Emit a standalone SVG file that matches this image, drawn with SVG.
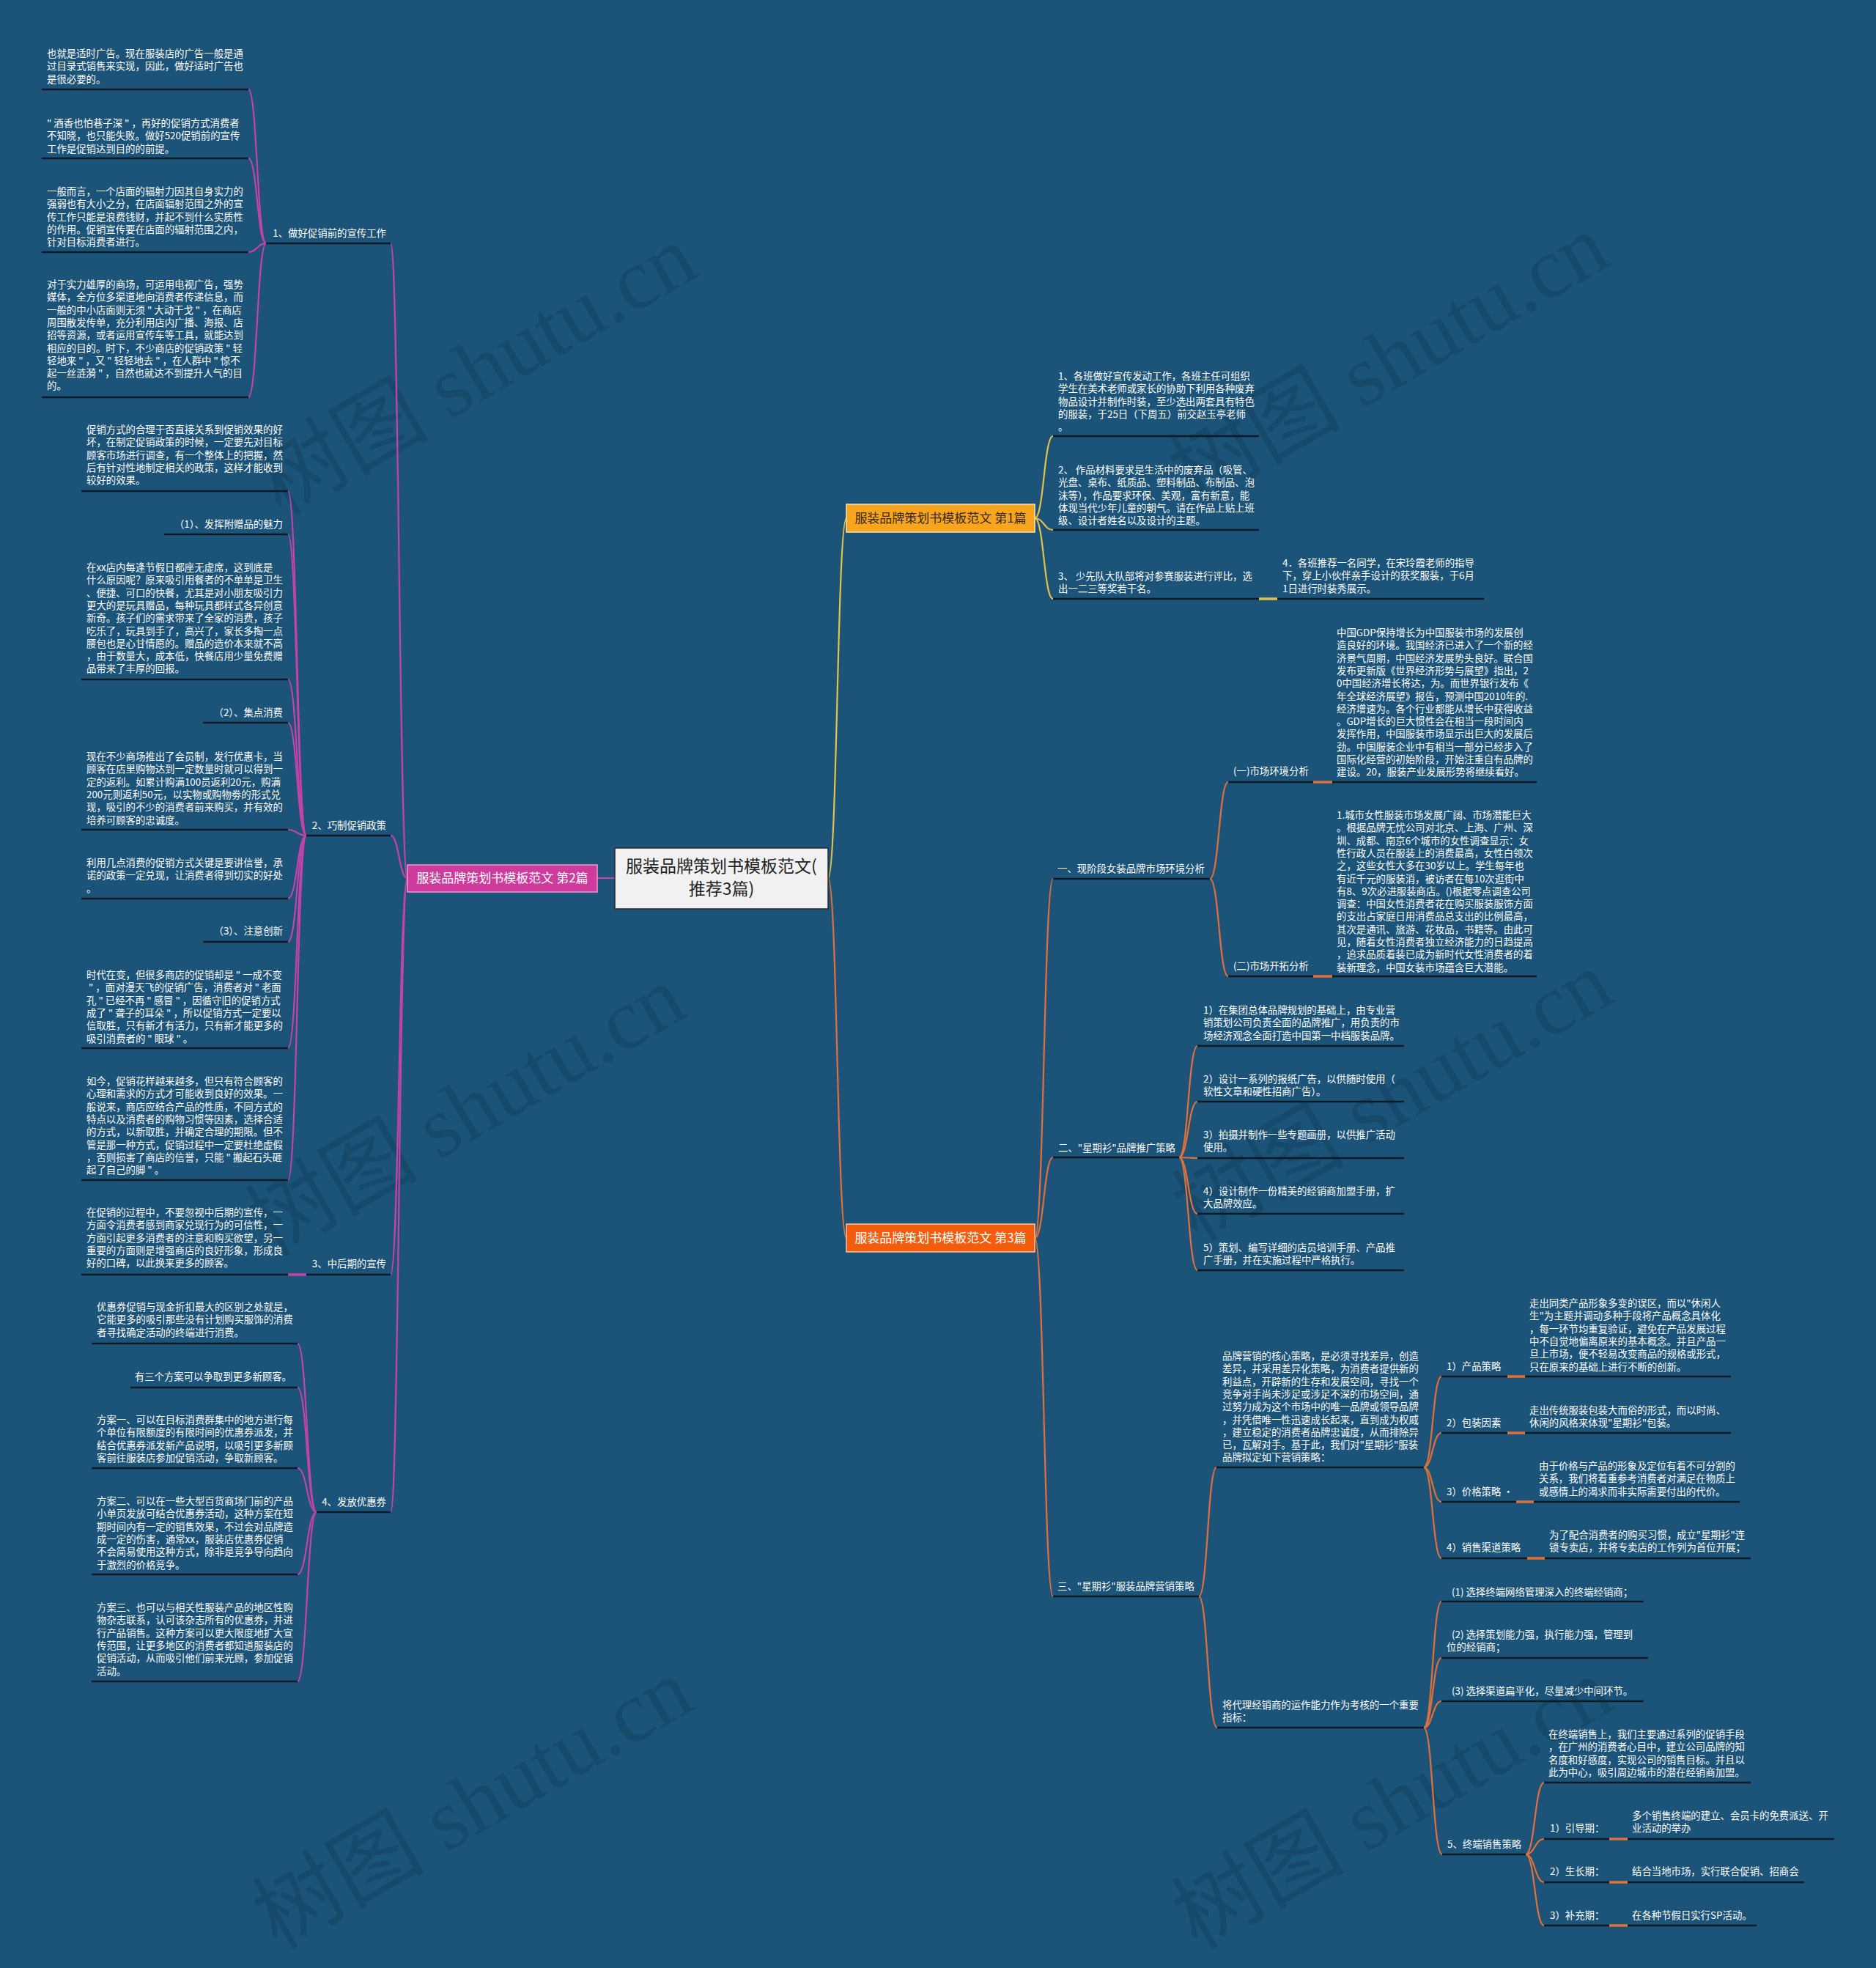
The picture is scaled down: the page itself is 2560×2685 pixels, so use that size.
<svg xmlns="http://www.w3.org/2000/svg" width="2560" height="2685" viewBox="0 0 2560 2685">
<style>
.t{font-family:"Noto Sans CJK SC","Noto Sans",sans-serif;font-size:13.4px;fill:#ffffff}
.te{font-family:"Noto Sans CJK SC","Noto Sans",sans-serif;font-size:13.4px;fill:#ffffff;text-anchor:end}
.ul{stroke:#0c1a25;stroke-width:2.6;fill:none}
.cm{stroke:#c443a9;stroke-width:2.2;fill:none}
.cy{stroke:#e6c24a;stroke-width:2.2;fill:none}
.co{stroke:#e2703a;stroke-width:2.2;fill:none}
.seg{stroke-width:3.5}
.wm{font-family:"Liberation Serif","Noto Sans CJK SC",serif;font-size:118px;fill:#000000;opacity:0.11;text-anchor:middle}
.bt{font-family:"Noto Sans CJK SC","Noto Sans",sans-serif;font-size:17px;text-anchor:middle}
</style>
<rect x="0" y="0" width="2560" height="2685" fill="#1b5379"/>

<g id="watermarks">
<text class="wm" transform="translate(670,540) rotate(-30)">树图 shutu.cn</text>
<text class="wm" transform="translate(655,1550) rotate(-30)">树图 shutu.cn</text>
<text class="wm" transform="translate(665,2495) rotate(-30)">树图 shutu.cn</text>
<text class="wm" transform="translate(1915,525) rotate(-30)">树图 shutu.cn</text>
<text class="wm" transform="translate(1920,1530) rotate(-30)">树图 shutu.cn</text>
<text class="wm" transform="translate(1920,2495) rotate(-30)">树图 shutu.cn</text>
</g>

<g id="connectors">
<path class="cy" d="M1130,1198 C1142.5,1198 1142.5,707 1155,707"/>
<path class="co" d="M1130,1198 C1142.5,1198 1142.5,1689 1155,1689"/>
<path class="cm" d="M839,1198 L815,1198"/>
<path class="cm" d="M556,1198 C544.5,1198 544.5,332 533,332"/>
<path class="cm" d="M556,1198 C544.5,1198 544.5,1140 533,1140"/>
<path class="cm" d="M556,1198 C544.5,1198 544.5,1739 533,1739"/>
<path class="cm" d="M556,1198 C544.5,1198 544.5,2063 533,2063"/>
<path class="cm" d="M363,332 C351,332 351,122 339,122"/>
<path class="cm" d="M363,332 C351,332 351,216 339,216"/>
<path class="cm" d="M363,332 C351,332 351,344 339,344"/>
<path class="cm" d="M363,332 C351,332 351,542 339,542"/>
<path class="cm" d="M418,1140 C405.5,1140 405.5,670 393,670"/>
<path class="cm" d="M418,1140 C405.5,1140 405.5,729 393,729"/>
<path class="cm" d="M418,1140 C405.5,1140 405.5,927 393,927"/>
<path class="cm" d="M418,1140 C405.5,1140 405.5,986 393,986"/>
<path class="cm" d="M418,1140 C405.5,1140 405.5,1132 393,1132"/>
<path class="cm" d="M418,1140 C405.5,1140 405.5,1226 393,1226"/>
<path class="cm" d="M418,1140 C405.5,1140 405.5,1285 393,1285"/>
<path class="cm" d="M418,1140 C405.5,1140 405.5,1430 393,1430"/>
<path class="cm" d="M418,1140 C405.5,1140 405.5,1610 393,1610"/>
<path class="cm seg" d="M418,1739 L393,1739"/>
<path class="cm" d="M432,2063 C419,2063 419,1833 406,1833"/>
<path class="cm" d="M432,2063 C419,2063 419,1893 406,1893"/>
<path class="cm" d="M432,2063 C419,2063 419,2003 406,2003"/>
<path class="cm" d="M432,2063 C419,2063 419,2148 406,2148"/>
<path class="cm" d="M432,2063 C419,2063 419,2294 406,2294"/>
<path class="cy" d="M1412,707 C1424.5,707 1424.5,595 1437,595"/>
<path class="cy" d="M1412,707 C1424.5,707 1424.5,723 1437,723"/>
<path class="cy" d="M1412,707 C1424.5,707 1424.5,817 1437,817"/>
<path class="cy seg" d="M1718,817 L1743,817"/>
<path class="co" d="M1412,1689 C1424.5,1689 1424.5,1199 1437,1199"/>
<path class="co" d="M1412,1689 C1424.5,1689 1424.5,1579 1437,1579"/>
<path class="co" d="M1412,1689 C1424.5,1689 1424.5,2178 1437,2178"/>
<path class="co" d="M1651,1199 C1663.5,1199 1663.5,1067 1676,1067"/>
<path class="co" d="M1651,1199 C1663.5,1199 1663.5,1332 1676,1332"/>
<path class="co seg" d="M1792,1067 L1818,1067"/>
<path class="co seg" d="M1792,1332 L1818,1332"/>
<path class="co" d="M1609,1579 C1621.5,1579 1621.5,1427 1634,1427"/>
<path class="co" d="M1609,1579 C1621.5,1579 1621.5,1503 1634,1503"/>
<path class="co" d="M1609,1579 C1621.5,1579 1621.5,1580 1634,1580"/>
<path class="co" d="M1609,1579 C1621.5,1579 1621.5,1656 1634,1656"/>
<path class="co" d="M1609,1579 C1621.5,1579 1621.5,1733 1634,1733"/>
<path class="co" d="M1636,2178 C1648,2178 1648,2002 1660,2002"/>
<path class="co" d="M1636,2178 C1648,2178 1648,2357 1661,2357"/>
<path class="co" d="M1943,2002 C1955,2002 1955,1878 1967,1878"/>
<path class="co" d="M1943,2002 C1955,2002 1955,1955 1967,1955"/>
<path class="co" d="M1943,2002 C1955,2002 1955,2049 1967,2049"/>
<path class="co" d="M1943,2002 C1955,2002 1955,2126 1967,2126"/>
<path class="co seg" d="M2057,1878 L2081,1878"/>
<path class="co seg" d="M2057,1955 L2081,1955"/>
<path class="co seg" d="M2069,2049 L2093,2049"/>
<path class="co seg" d="M2084,2126 L2108,2126"/>
<path class="co" d="M1943,2357 C1955,2357 1955,2185 1967,2185"/>
<path class="co" d="M1943,2357 C1955,2357 1955,2262 1967,2262"/>
<path class="co" d="M1943,2357 C1955,2357 1955,2321 1967,2321"/>
<path class="co" d="M1943,2357 C1955,2357 1955,2530 1968,2530"/>
<path class="co" d="M2082,2530 C2094.5,2530 2094.5,2432 2107,2432"/>
<path class="co" d="M2082,2530 C2094.5,2530 2094.5,2509 2107,2509"/>
<path class="co" d="M2082,2530 C2094.5,2530 2094.5,2568 2107,2568"/>
<path class="co" d="M2082,2530 C2094.5,2530 2094.5,2627 2107,2627"/>
<path class="co seg" d="M2196,2509 L2221,2509"/>
<path class="co seg" d="M2196,2568 L2221,2568"/>
<path class="co seg" d="M2196,2627 L2221,2627"/>
</g>

<g id="root">
<rect x="839" y="1157" width="291" height="83" fill="#f1f1f1" stroke="#2a2a2a" stroke-width="1.5"/>
<text font-family="Noto Sans CJK SC, Noto Sans, sans-serif" font-size="23" fill="#222" text-anchor="middle"><tspan x="984.5" y="1190">服装品牌策划书模板范文(</tspan><tspan x="984.5" y="1221">推荐3篇)</tspan></text>
</g>

<g id="b1">
<rect x="1155" y="688" width="257" height="38" fill="#f7a51e" stroke="#ffe2a8" stroke-width="1.5"/>
<text class="bt" x="1283.5" y="713" fill="#3a2a10">服装品牌策划书模板范文 第1篇</text>
</g>
<g id="b2">
<rect x="556" y="1180" width="259" height="37" fill="#cf3a9d" stroke="#f59ad4" stroke-width="1.5"/>
<text class="bt" x="685.5" y="1204" fill="#ffffff">服装品牌策划书模板范文 第2篇</text>
</g>
<g id="b3">
<rect x="1155" y="1670" width="257" height="38" fill="#f45c0d" stroke="#ffc4a0" stroke-width="1.5"/>
<text class="bt" x="1283.5" y="1695" fill="#ffffff">服装品牌策划书模板范文 第3篇</text>
</g>

<g id="h1">
<text class="te" x="527" y="323">1、做好促销前的宣传工作</text>
<line class="ul" x1="363" y1="332" x2="533" y2="332"/>
</g>
<g id="h1a">
<text class="t"><tspan x="64" y="78">也就是适时广告。现在服装店的广告一般是通</tspan><tspan x="64" y="95.3">过目录式销售来实现，因此，做好适时广告也</tspan><tspan x="64" y="112.6">是很必要的。</tspan></text>
<line class="ul" x1="57" y1="122" x2="339" y2="122"/>
</g>
<g id="h1b">
<text class="t"><tspan x="64" y="173">" 酒香也怕巷子深 " ，再好的促销方式消费者</tspan><tspan x="64" y="190.3">不知晓，也只能失败。做好520促销前的宣传</tspan><tspan x="64" y="207.6">工作是促销达到目的的前提。</tspan></text>
<line class="ul" x1="57" y1="216" x2="339" y2="216"/>
</g>
<g id="h1c">
<text class="t"><tspan x="64" y="266">一般而言，一个店面的辐射力因其自身实力的</tspan><tspan x="64" y="283.3">强弱也有大小之分，在店面辐射范围之外的宣</tspan><tspan x="64" y="300.6">传工作只能是浪费钱财，并起不到什么实质性</tspan><tspan x="64" y="317.9">的作用。促销宣传要在店面的辐射范围之内，</tspan><tspan x="64" y="335.2">针对目标消费者进行。</tspan></text>
<line class="ul" x1="57" y1="344" x2="339" y2="344"/>
</g>
<g id="h1d">
<text class="t"><tspan x="64" y="393">对于实力雄厚的商场，可运用电视广告，强势</tspan><tspan x="64" y="410.3">媒体，全方位多渠道地向消费者传递信息，而</tspan><tspan x="64" y="427.6">一般的中小店面则无须 " 大动干戈 " ，在商店</tspan><tspan x="64" y="444.9">周围散发传单，充分利用店内广播、海报、店</tspan><tspan x="64" y="462.2">招等资源，或者运用宣传车等工具，就能达到</tspan><tspan x="64" y="479.5">相应的目的。时下，不少商店的促销政策 " 轻</tspan><tspan x="64" y="496.8">轻地来 " ，又 " 轻轻地去 " ，在人群中 " 惊不</tspan><tspan x="64" y="514.1">起一丝涟漪 " ，自然也就达不到提升人气的目</tspan><tspan x="64" y="531.4">的。</tspan></text>
<line class="ul" x1="57" y1="542" x2="339" y2="542"/>
</g>

<g id="h2">
<text class="te" x="527" y="1131">2、巧制促销政策</text>
<line class="ul" x1="418" y1="1140" x2="533" y2="1140"/>
</g>
<g id="h2a">
<text class="t"><tspan x="118" y="591">促销方式的合理于否直接关系到促销效果的好</tspan><tspan x="118" y="608.3">坏，在制定促销政策的时候，一定要先对目标</tspan><tspan x="118" y="625.6">顾客市场进行调查，有一个整体上的把握，然</tspan><tspan x="118" y="642.9">后有针对性地制定相关的政策，这样才能收到</tspan><tspan x="118" y="660.2">较好的效果。</tspan></text>
<line class="ul" x1="111" y1="670" x2="393" y2="670"/>
</g>
<g id="h2b">
<text class="te" x="386" y="720">（1）、发挥附赠品的魅力</text>
<line class="ul" x1="224" y1="729" x2="393" y2="729"/>
</g>
<g id="h2c">
<text class="t"><tspan x="118" y="779">在xx店内每逢节假日都座无虚席，这到底是</tspan><tspan x="118" y="796.3">什么原因呢？原来吸引用餐者的不单单是卫生</tspan><tspan x="118" y="813.6">、便捷、可口的快餐，尤其是对小朋友吸引力</tspan><tspan x="118" y="830.9">更大的是玩具赠品，每种玩具都样式各异创意</tspan><tspan x="118" y="848.2">新奇。孩子们的需求带来了全家的消费，孩子</tspan><tspan x="118" y="865.5">吃乐了，玩具到手了，高兴了，家长多掏一点</tspan><tspan x="118" y="882.8">腰包也是心甘情愿的。赠品的造价本来就不高</tspan><tspan x="118" y="900.1">，由于数量大，成本低，快餐店用少量免费赠</tspan><tspan x="118" y="917.4">品带来了丰厚的回报。</tspan></text>
<line class="ul" x1="111" y1="927" x2="393" y2="927"/>
</g>
<g id="h2d">
<text class="te" x="386" y="977">（2）、集点消费</text>
<line class="ul" x1="277" y1="986" x2="393" y2="986"/>
</g>
<g id="h2e">
<text class="t"><tspan x="118" y="1037">现在不少商场推出了会员制，发行优惠卡，当</tspan><tspan x="118" y="1054.3">顾客在店里购物达到一定数量时就可以得到一</tspan><tspan x="118" y="1071.6">定的返利。如累计购满100员返利20元，购满</tspan><tspan x="118" y="1088.9">200元则返利50元，以实物或购物劵的形式兑</tspan><tspan x="118" y="1106.2">现，吸引的不少的消费者前来购买，并有效的</tspan><tspan x="118" y="1123.5">培养可顾客的忠诚度。</tspan></text>
<line class="ul" x1="111" y1="1132" x2="393" y2="1132"/>
</g>
<g id="h2f">
<text class="t"><tspan x="118" y="1182">利用几点消费的促销方式关键是要讲信誉，承</tspan><tspan x="118" y="1199.3">诺的政策一定兑现，让消费者得到切实的好处</tspan><tspan x="118" y="1216.6">。</tspan></text>
<line class="ul" x1="111" y1="1226" x2="393" y2="1226"/>
</g>
<g id="h2g">
<text class="te" x="386" y="1275">（3）、注意创新</text>
<line class="ul" x1="277" y1="1285" x2="393" y2="1285"/>
</g>
<g id="h2h">
<text class="t"><tspan x="118" y="1335">时代在变，但很多商店的促销却是 " 一成不变</tspan><tspan x="118" y="1352.3"> " ，面对漫天飞的促销广告，消费者对 " 老面</tspan><tspan x="118" y="1369.6">孔 " 已经不再 " 感冒 " ，因循守旧的促销方式</tspan><tspan x="118" y="1386.9">成了 " 聋子的耳朵 " ，所以促销方式一定要以</tspan><tspan x="118" y="1404.2">信取胜，只有新才有活力，只有新才能更多的</tspan><tspan x="118" y="1421.5">吸引消费者的 " 眼球 " 。</tspan></text>
<line class="ul" x1="111" y1="1430" x2="393" y2="1430"/>
</g>
<g id="h2i">
<text class="t"><tspan x="118" y="1480">如今，促销花样越来越多，但只有符合顾客的</tspan><tspan x="118" y="1497.3">心理和需求的方式才可能收到良好的效果。一</tspan><tspan x="118" y="1514.6">般说来，商店应结合产品的性质，不同方式的</tspan><tspan x="118" y="1531.9">特点以及消费者的购物习惯等因素，选择合适</tspan><tspan x="118" y="1549.2">的方式，以新取胜，并确定合理的期限。但不</tspan><tspan x="118" y="1566.5">管是那一种方式，促销过程中一定要杜绝虚假</tspan><tspan x="118" y="1583.8">，否则损害了商店的信誉，只能 " 搬起石头砸</tspan><tspan x="118" y="1601.1">起了自己的脚 " 。</tspan></text>
<line class="ul" x1="111" y1="1610" x2="393" y2="1610"/>
</g>

<g id="h3">
<text class="te" x="527" y="1729">3、中后期的宣传</text>
<line class="ul" x1="418" y1="1739" x2="533" y2="1739"/>
</g>
<g id="h3a">
<text class="t"><tspan x="118" y="1659">在促销的过程中，不要忽视中后期的宣传，一</tspan><tspan x="118" y="1676.3">方面令消费者感到商家兑现行为的可信性，一</tspan><tspan x="118" y="1693.6">方面引起更多消费者的注意和购买欲望，另一</tspan><tspan x="118" y="1710.9">重要的方面则是增强商店的良好形象，形成良</tspan><tspan x="118" y="1728.2">好的口碑，以此换来更多的顾客。</tspan></text>
<line class="ul" x1="111" y1="1739" x2="393" y2="1739"/>
</g>

<g id="h4">
<text class="te" x="527" y="2054">4、发放优惠券</text>
<line class="ul" x1="432" y1="2063" x2="533" y2="2063"/>
</g>
<g id="h4a">
<text class="t"><tspan x="132" y="1788">优惠券促销与现金折扣最大的区别之处就是，</tspan><tspan x="132" y="1805.3">它能更多的吸引那些没有计划购买服饰的消费</tspan><tspan x="132" y="1822.6">者寻找确定活动的终端进行消费。</tspan></text>
<line class="ul" x1="125" y1="1833" x2="406" y2="1833"/>
</g>
<g id="h4b">
<text class="te" x="398" y="1883">有三个方案可以争取到更多新顾客。</text>
<line class="ul" x1="178" y1="1893" x2="406" y2="1893"/>
</g>
<g id="h4c">
<text class="t"><tspan x="132" y="1942">方案一、可以在目标消费群集中的地方进行每</tspan><tspan x="132" y="1959.3">个单位有限额度的有限时间的优惠券派发，并</tspan><tspan x="132" y="1976.6">结合优惠券派发新产品说明，以吸引更多新顾</tspan><tspan x="132" y="1993.9">客前往服装店参加促销活动，争取新顾客。</tspan></text>
<line class="ul" x1="125" y1="2003" x2="406" y2="2003"/>
</g>
<g id="h4d">
<text class="t"><tspan x="132" y="2053">方案二、可以在一些大型百货商场门前的产品</tspan><tspan x="132" y="2070.3">小单页发放可结合优惠券活动，这种方案在短</tspan><tspan x="132" y="2087.6">期时间内有一定的销售效果，不过会对品牌造</tspan><tspan x="132" y="2104.9">成一定的伤害，通常xx，服装店优惠券促销</tspan><tspan x="132" y="2122.2">不会简易使用这种方式，除非是竞争导向趋向</tspan><tspan x="132" y="2139.5">于激烈的价格竞争。</tspan></text>
<line class="ul" x1="125" y1="2148" x2="406" y2="2148"/>
</g>
<g id="h4e">
<text class="t"><tspan x="132" y="2198">方案三、也可以与相关性服装产品的地区性购</tspan><tspan x="132" y="2215.3">物杂志联系，认可该杂志所有的优惠券，并进</tspan><tspan x="132" y="2232.6">行产品销售。这种方案可以更大限度地扩大宣</tspan><tspan x="132" y="2249.9">传范围，让更多地区的消费者都知道服装店的</tspan><tspan x="132" y="2267.2">促销活动，从而吸引他们前来光顾，参加促销</tspan><tspan x="132" y="2284.5">活动。</tspan></text>
<line class="ul" x1="125" y1="2294" x2="406" y2="2294"/>
</g>

<g id="p1a">
<text class="t"><tspan x="1444" y="518">1、各班做好宣传发动工作，各班主任可组织</tspan><tspan x="1444" y="535.3">学生在美术老师或家长的协助下利用各种废弃</tspan><tspan x="1444" y="552.6">物品设计并制作时装，至少选出两套具有特色</tspan><tspan x="1444" y="569.9">的服装，于25日（下周五）前交赵玉亭老师</tspan><tspan x="1444" y="587.2">。</tspan></text>
<line class="ul" x1="1437" y1="595" x2="1718" y2="595"/>
</g>
<g id="p1b">
<text class="t"><tspan x="1444" y="646">2、 作品材料要求是生活中的废弃品（吸管、</tspan><tspan x="1444" y="663.3">光盘、桌布、纸质品、塑料制品、布制品、泡</tspan><tspan x="1444" y="680.6">沫等），作品要求环保、美观，富有新意，能</tspan><tspan x="1444" y="697.9">体现当代少年儿童的朝气。请在作品上贴上班</tspan><tspan x="1444" y="715.2">级、设计者姓名以及设计的主题。</tspan></text>
<line class="ul" x1="1437" y1="723" x2="1718" y2="723"/>
</g>
<g id="p1c">
<text class="t"><tspan x="1444" y="791">3、 少先队大队部将对参赛服装进行评比，选</tspan><tspan x="1444" y="808.3">出一二三等奖若干名。</tspan></text>
<line class="ul" x1="1437" y1="817" x2="1718" y2="817"/>
</g>
<g id="p1d">
<text class="t"><tspan x="1750" y="773">4．各班推荐一名同学，在宋玲霞老师的指导</tspan><tspan x="1750" y="790.3">下，穿上小伙伴亲手设计的获奖服装，于6月</tspan><tspan x="1750" y="807.6">1日进行时装秀展示。</tspan></text>
<line class="ul" x1="1743" y1="817" x2="2025" y2="817"/>
</g>

<g id="s1">
<text class="t" x="1443" y="1190">一、现阶段女装品牌市场环境分析</text>
<line class="ul" x1="1437" y1="1199" x2="1651" y2="1199"/>
</g>
<g id="s1a">
<text class="t" x="1683" y="1057">(一)市场环境分析</text>
<line class="ul" x1="1676" y1="1067" x2="1792" y2="1067"/>
</g>
<g id="s1a1">
<text class="t"><tspan x="1824" y="868">中国GDP保持增长为中国服装市场的发展创</tspan><tspan x="1824" y="885.3">造良好的环境。我国经济已进入了一个新的经</tspan><tspan x="1824" y="902.6">济景气周期，中国经济发展势头良好。联合国</tspan><tspan x="1824" y="919.9">发布更新版《世界经济形势与展望》指出，2</tspan><tspan x="1824" y="937.2">0中国经济增长将达，为。而世界银行发布《</tspan><tspan x="1824" y="954.5">年全球经济展望》报告，预测中国2010年的.</tspan><tspan x="1824" y="971.8">经济增速为。各个行业都能从增长中获得收益</tspan><tspan x="1824" y="989.1">。GDP增长的巨大惯性会在相当一段时间内</tspan><tspan x="1824" y="1006.4">发挥作用，中国服装市场显示出巨大的发展后</tspan><tspan x="1824" y="1023.7">劲。中国服装企业中有相当一部分已经步入了</tspan><tspan x="1824" y="1041">国际化经营的初始阶段，开始注重自有品牌的</tspan><tspan x="1824" y="1058.3">建设。20，服装产业发展形势将继续看好。</tspan></text>
<line class="ul" x1="1818" y1="1067" x2="2097" y2="1067"/>
</g>
<g id="s1b">
<text class="t" x="1683" y="1323">(二)市场开拓分析</text>
<line class="ul" x1="1676" y1="1332" x2="1792" y2="1332"/>
</g>
<g id="s1b1">
<text class="t"><tspan x="1824" y="1117">1.城市女性服装市场发展广阔、市场潜能巨大</tspan><tspan x="1824" y="1134.3">。根据品牌无忧公司对北京、上海、广州、深</tspan><tspan x="1824" y="1151.6">圳、成都、南京6个城市的女性调查显示：女</tspan><tspan x="1824" y="1168.9">性行政人员在服装上的消费最高，女性白领次</tspan><tspan x="1824" y="1186.2">之，这些女性大多在30岁以上。学生每年也</tspan><tspan x="1824" y="1203.5">有近千元的服装消，被访者在每10次逛街中</tspan><tspan x="1824" y="1220.8">有8、9次必进服装商店。()根据零点调查公司</tspan><tspan x="1824" y="1238.1">调查：中国女性消费者花在购买服装服饰方面</tspan><tspan x="1824" y="1255.4">的支出占家庭日用消费品总支出的比例最高，</tspan><tspan x="1824" y="1272.7">其次是通讯、旅游、花妆品，书籍等。由此可</tspan><tspan x="1824" y="1290">见，随着女性消费者独立经济能力的日趋提高</tspan><tspan x="1824" y="1307.3">，追求品质着装已成为新时代女性消费者的着</tspan><tspan x="1824" y="1324.6">装新理念，中国女装市场蕴含巨大潜能。</tspan></text>
<line class="ul" x1="1818" y1="1332" x2="2097" y2="1332"/>
</g>

<g id="s2">
<text class="t" x="1444" y="1571">二、"星期衫"品牌推广策略</text>
<line class="ul" x1="1437" y1="1579" x2="1609" y2="1579"/>
</g>
<g id="s2a">
<text class="t"><tspan x="1642" y="1383">1）在集团总体品牌规划的基础上，由专业营</tspan><tspan x="1642" y="1400.3">销策划公司负责全面的品牌推广，用负责的市</tspan><tspan x="1642" y="1417.6">场经济观念全面打造中国第一中档服装品牌。</tspan></text>
<line class="ul" x1="1634" y1="1427" x2="1916" y2="1427"/>
</g>
<g id="s2b">
<text class="t"><tspan x="1642" y="1477">2）设计一系列的报纸广告，以供随时使用（</tspan><tspan x="1642" y="1494.3">软性文章和硬性招商广告）。</tspan></text>
<line class="ul" x1="1634" y1="1503" x2="1916" y2="1503"/>
</g>
<g id="s2c">
<text class="t"><tspan x="1642" y="1553">3）拍摄并制作一些专题画册，以供推广活动</tspan><tspan x="1642" y="1570.3">使用。</tspan></text>
<line class="ul" x1="1634" y1="1580" x2="1916" y2="1580"/>
</g>
<g id="s2d">
<text class="t"><tspan x="1642" y="1630">4）设计制作一份精美的经销商加盟手册，扩</tspan><tspan x="1642" y="1647.3">大品牌效应。</tspan></text>
<line class="ul" x1="1634" y1="1656" x2="1916" y2="1656"/>
</g>
<g id="s2e">
<text class="t"><tspan x="1642" y="1707">5）策划、编写详细的店员培训手册、产品推</tspan><tspan x="1642" y="1724.3">广手册，并在实施过程中严格执行。</tspan></text>
<line class="ul" x1="1634" y1="1733" x2="1916" y2="1733"/>
</g>

<g id="s3">
<text class="t" x="1443" y="2169">三、"星期衫"服装品牌营销策略</text>
<line class="ul" x1="1437" y1="2178" x2="1636" y2="2178"/>
</g>
<g id="s3a">
<text class="t"><tspan x="1668" y="1855">品牌营销的核心策略，是必须寻找差异，创造</tspan><tspan x="1668" y="1872.3">差异，并采用差异化策略，为消费者提供新的</tspan><tspan x="1668" y="1889.6">利益点，开辟新的生存和发展空间，寻找一个</tspan><tspan x="1668" y="1906.9">竞争对手尚未涉足或涉足不深的市场空间，通</tspan><tspan x="1668" y="1924.2">过努力成为这个市场中的唯一品牌或领导品牌</tspan><tspan x="1668" y="1941.5">，并凭借唯一性迅速成长起来，直到成为权威</tspan><tspan x="1668" y="1958.8">，建立稳定的消费者品牌忠诚度，从而排除异</tspan><tspan x="1668" y="1976.1">已，瓦解对手。基于此，我们对"星期衫"服装</tspan><tspan x="1668" y="1993.4">品牌拟定如下营销策略：</tspan></text>
<line class="ul" x1="1660" y1="2002" x2="1943" y2="2002"/>
</g>
<g id="s3a1">
<text class="t" x="1974" y="1869">1）产品策略</text>
<line class="ul" x1="1967" y1="1878" x2="2057" y2="1878"/>
</g>
<g id="s3a1x">
<text class="t"><tspan x="2087" y="1783">走出同类产品形象多变的误区，而以"休闲人</tspan><tspan x="2087" y="1800.3">生"为主题并调动多种手段将产品概念具体化</tspan><tspan x="2087" y="1817.6">，每一环节均重复验证，避免在产品发展过程</tspan><tspan x="2087" y="1834.9">中不自觉地偏离原来的基本概念。并且产品一</tspan><tspan x="2087" y="1852.2">旦上市场，便不轻易改变商品的规格或形式，</tspan><tspan x="2087" y="1869.5">只在原来的基础上进行不断的创新。</tspan></text>
<line class="ul" x1="2081" y1="1878" x2="2362" y2="1878"/>
</g>
<g id="s3a2">
<text class="t" x="1974" y="1946">2）包装因素</text>
<line class="ul" x1="1967" y1="1955" x2="2057" y2="1955"/>
</g>
<g id="s3a2x">
<text class="t"><tspan x="2087" y="1929">走出传统服装包装大而俗的形式，而以时尚、</tspan><tspan x="2087" y="1946.3">休闲的风格来体现"星期衫"包装。</tspan></text>
<line class="ul" x1="2081" y1="1955" x2="2362" y2="1955"/>
</g>
<g id="s3a3">
<text class="t" x="1974" y="2040">3）价格策略 ·</text>
<line class="ul" x1="1967" y1="2049" x2="2069" y2="2049"/>
</g>
<g id="s3a3x">
<text class="t"><tspan x="2100" y="2005">由于价格与产品的形象及定位有着不可分割的</tspan><tspan x="2100" y="2022.3">关系，我们将着重参考消费者对满足在物质上</tspan><tspan x="2100" y="2039.6">或感情上的渴求而非实际需要付出的代价。</tspan></text>
<line class="ul" x1="2093" y1="2049" x2="2374" y2="2049"/>
</g>
<g id="s3a4">
<text class="t" x="1974" y="2116">4）销售渠道策略</text>
<line class="ul" x1="1967" y1="2126" x2="2084" y2="2126"/>
</g>
<g id="s3a4x">
<text class="t"><tspan x="2114" y="2099">为了配合消费者的购买习惯，成立"星期衫"连</tspan><tspan x="2114" y="2116.3">锁专卖店，并将专卖店的工作列为首位开展；</tspan></text>
<line class="ul" x1="2108" y1="2126" x2="2389" y2="2126"/>
</g>

<g id="s3b">
<text class="t"><tspan x="1668" y="2331">将代理经销商的运作能力作为考核的一个重要</tspan><tspan x="1668" y="2348.3">指标：</tspan></text>
<line class="ul" x1="1661" y1="2357" x2="1943" y2="2357"/>
</g>
<g id="s3b1">
<text class="t" x="1981" y="2177">(1) 选择终端网络管理深入的终端经销商；</text>
<line class="ul" x1="1967" y1="2185" x2="2243" y2="2185"/>
</g>
<g id="s3b2">
<text class="t"><tspan x="1981" y="2235">(2) 选择策划能力强，执行能力强，管理到</tspan><tspan x="1974" y="2252.3">位的经销商；</tspan></text>
<line class="ul" x1="1967" y1="2262" x2="2249" y2="2262"/>
</g>
<g id="s3b3">
<text class="t" x="1981" y="2312">(3) 选择渠道扁平化，尽量减少中间环节。</text>
<line class="ul" x1="1967" y1="2321" x2="2243" y2="2321"/>
</g>
<g id="s3b4">
<text class="t" x="1975" y="2521">5、终端销售策略</text>
<line class="ul" x1="1968" y1="2530" x2="2082" y2="2530"/>
</g>
<g id="s3b4a">
<text class="t"><tspan x="2113" y="2371">在终端销售上，我们主要通过系列的促销手段</tspan><tspan x="2113" y="2388.3">，在广州的消费者心目中，建立公司品牌的知</tspan><tspan x="2113" y="2405.6">名度和好感度，实现公司的销售目标。并且以</tspan><tspan x="2113" y="2422.9">此为中心，吸引周边城市的潜在经销商加盟。</tspan></text>
<line class="ul" x1="2107" y1="2432" x2="2389" y2="2432"/>
</g>
<g id="s3b4b">
<text class="t" x="2115" y="2499">1）引导期：</text>
<line class="ul" x1="2107" y1="2509" x2="2196" y2="2509"/>
</g>
<g id="s3b4bx">
<text class="t"><tspan x="2227" y="2482">多个销售终端的建立、会员卡的免费派送、开</tspan><tspan x="2227" y="2499.3">业活动的举办</tspan></text>
<line class="ul" x1="2221" y1="2509" x2="2503" y2="2509"/>
</g>
<g id="s3b4c">
<text class="t" x="2115" y="2558">2）生长期：</text>
<line class="ul" x1="2107" y1="2568" x2="2196" y2="2568"/>
</g>
<g id="s3b4cx">
<text class="t" x="2227" y="2558">结合当地市场，实行联合促销、招商会</text>
<line class="ul" x1="2221" y1="2568" x2="2462" y2="2568"/>
</g>
<g id="s3b4d">
<text class="t" x="2115" y="2618">3）补充期：</text>
<line class="ul" x1="2107" y1="2627" x2="2196" y2="2627"/>
</g>
<g id="s3b4dx">
<text class="t" x="2227" y="2618">在各种节假日实行SP活动。</text>
<line class="ul" x1="2221" y1="2627" x2="2397" y2="2627"/>
</g>
</svg>
